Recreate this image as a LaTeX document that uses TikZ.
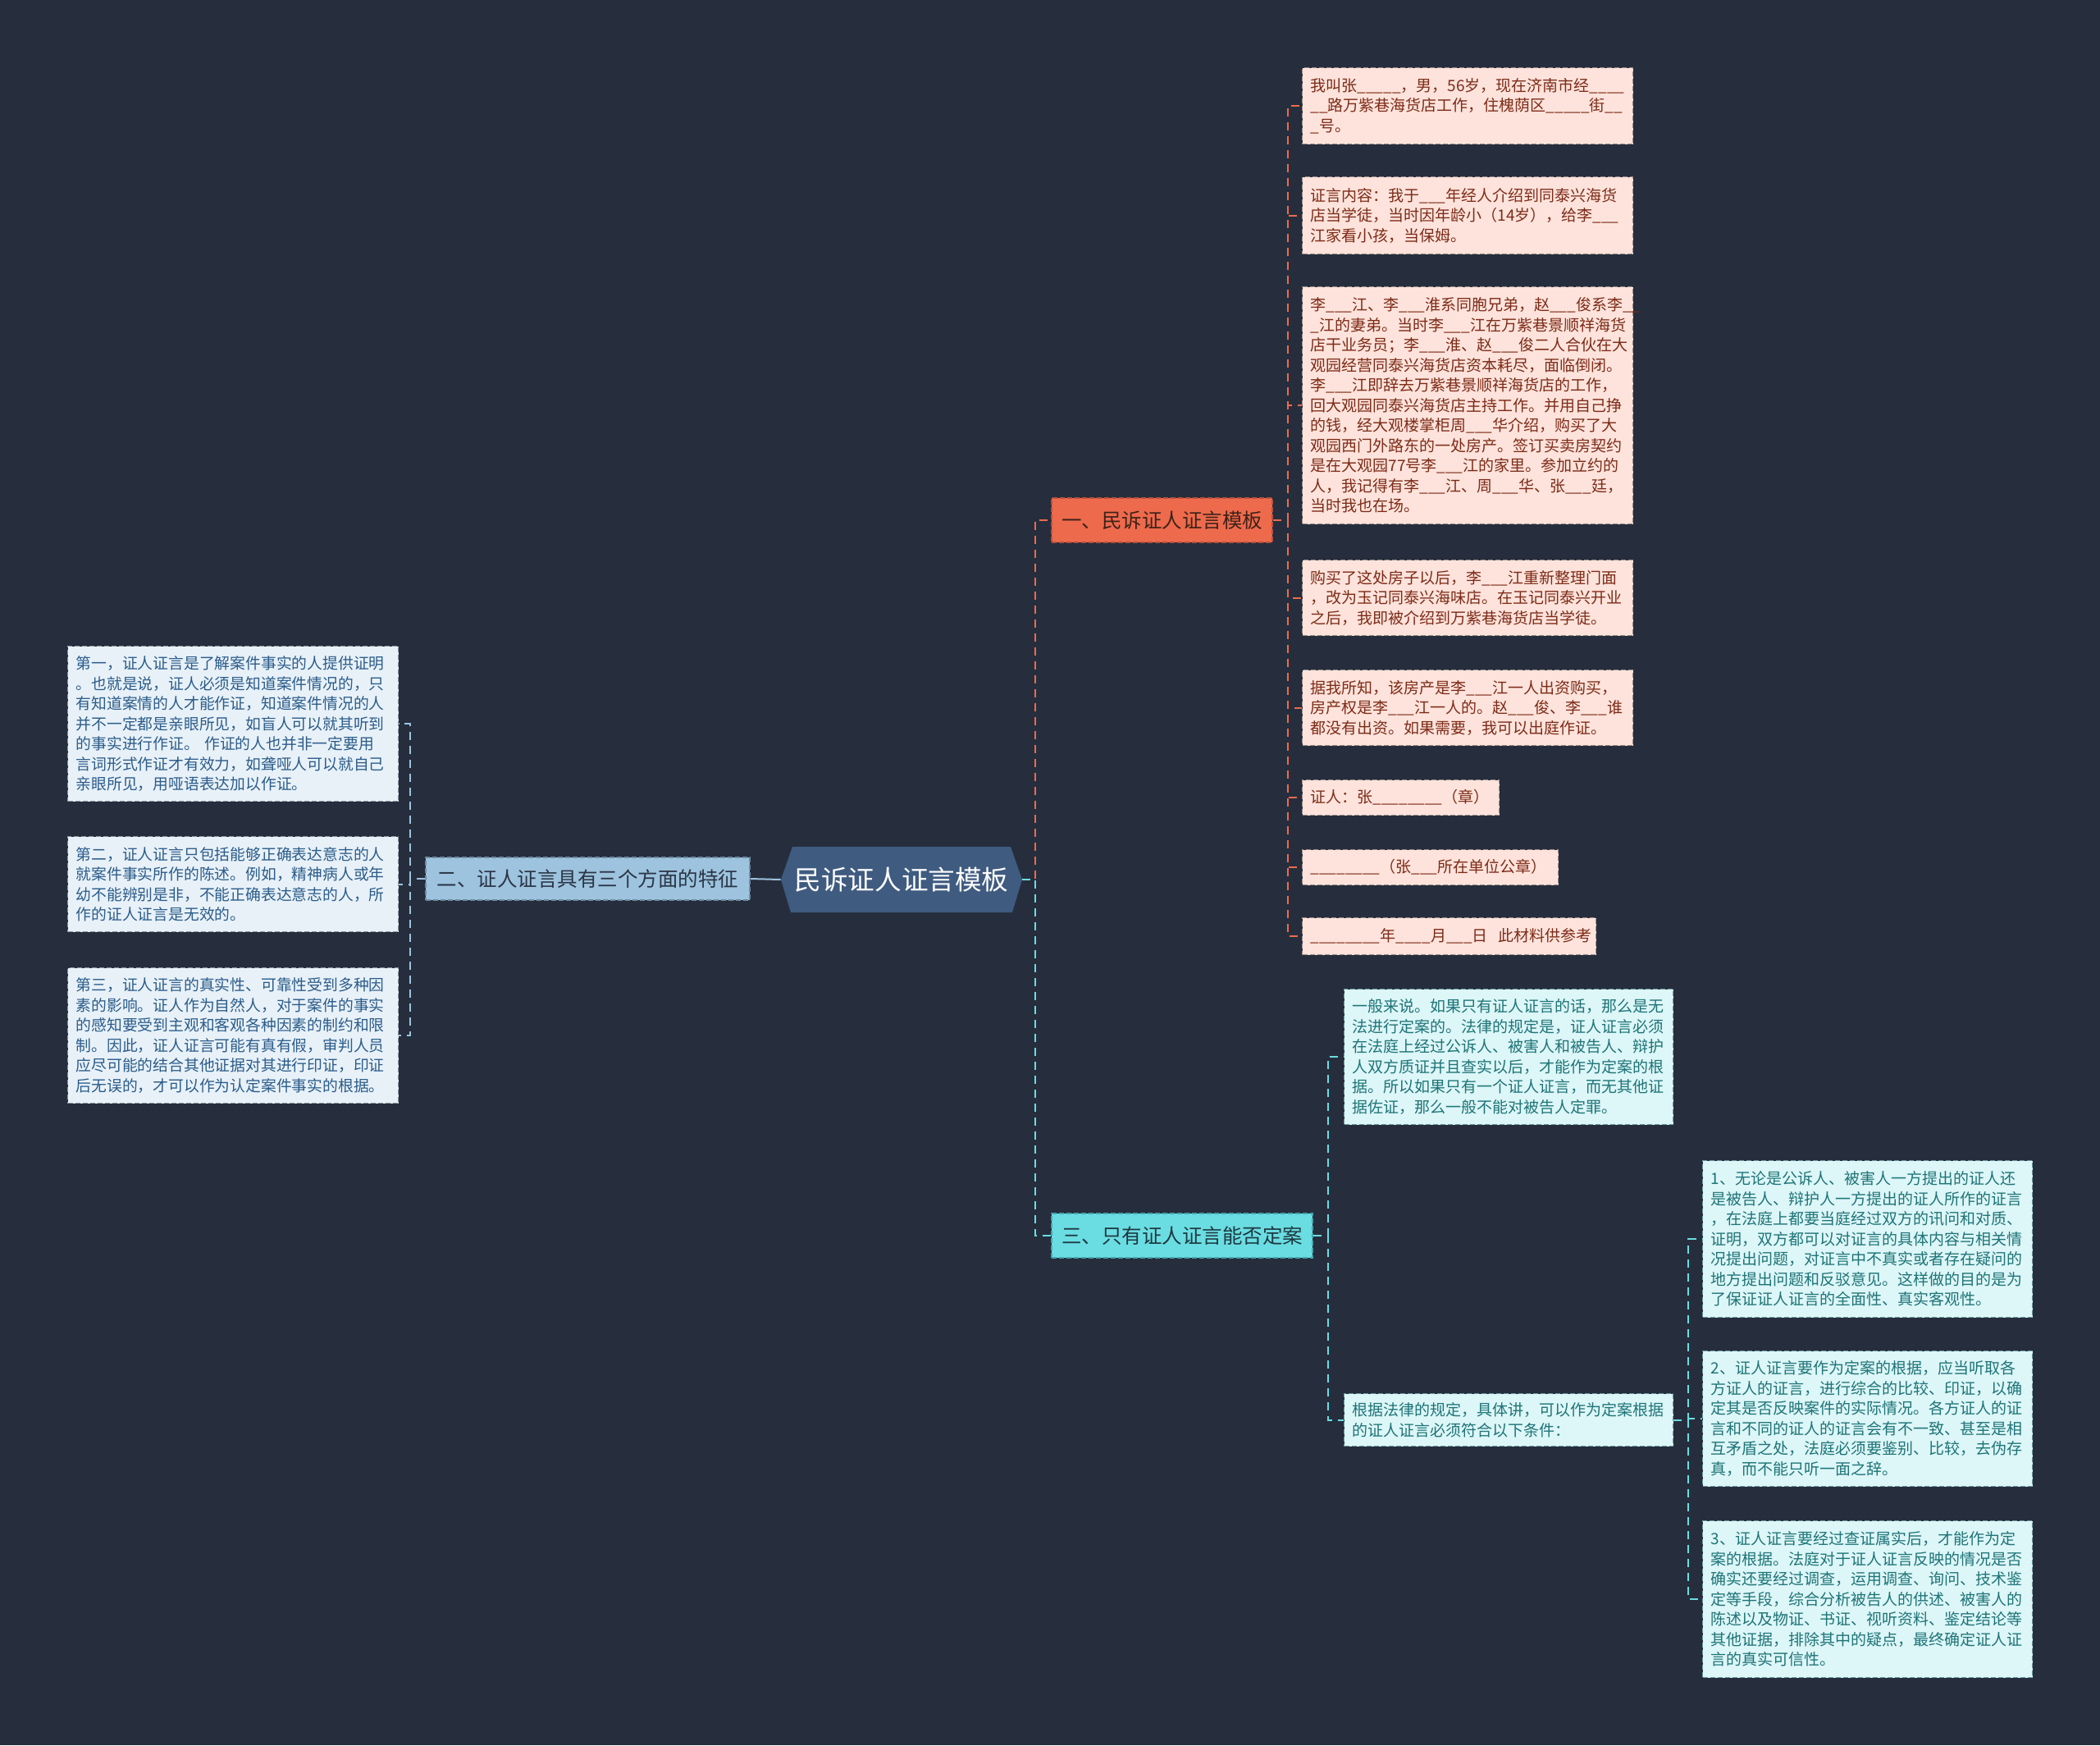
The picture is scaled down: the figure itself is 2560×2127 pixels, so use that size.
\documentclass[tikz,border=0pt]{standalone}
\usepackage{fontspec}
\setmainfont{Noto Sans CJK SC}
\definecolor{bgc}{HTML}{262E3D}
\definecolor{rootc}{HTML}{3F5B80}
\definecolor{ora}{HTML}{EE6A4C}
\definecolor{orad}{HTML}{B8503A}
\definecolor{orat}{HTML}{3E2219}
\definecolor{lblue}{HTML}{9DC3DE}
\definecolor{lblued}{HTML}{6F8BA2}
\definecolor{lbluet}{HTML}{2A3545}
\definecolor{cyanb}{HTML}{6ADDE2}
\definecolor{cyand}{HTML}{43A6AC}
\definecolor{cyant}{HTML}{1D3940}
\definecolor{pinkf}{HTML}{FDE3DB}
\definecolor{pinkd}{HTML}{9C8C88}
\definecolor{pinkt}{HTML}{7D2B18}
\definecolor{leftf}{HTML}{E8F1F8}
\definecolor{leftd}{HTML}{8A96A2}
\definecolor{leftt}{HTML}{2B5C8A}
\definecolor{cyf}{HTML}{DDF6F7}
\definecolor{cyd}{HTML}{6C9AA0}
\definecolor{cyt}{HTML}{1E7478}
\begin{document}
\begin{tikzpicture}[x=0.5pt,y=-0.5pt,
  bdash/.style={dash pattern=on 3pt off 1.5pt, line width=0.6pt},
  con/.style={dash pattern=on 5pt off 3.5pt, line width=1pt},
  branch/.style={bdash, inner sep=0pt, font=\fontsize{12.25}{14}\selectfont},
  leaf/.style={bdash, anchor=north west, inner xsep=5pt, inner ysep=0pt, text width=191.5pt, align=left, font=\fontsize{9.5}{12.25}\selectfont},
  pinkleaf/.style={leaf, fill=pinkf, draw=pinkd, text=pinkt},
  leftleaf/.style={leaf, fill=leftf, draw=leftd, text=leftt, font=\fontsize{9.4}{12.25}\selectfont},
  cyleaf/.style={leaf, fill=cyf, draw=cyd, text=cyt}]
\fill[bgc] (0,0) rectangle (2560,2127);
\useasboundingbox (0,0) rectangle (2560,2127);
% root
\fill[rootc] (952,1072) -- (966,1032) -- (1232,1032) -- (1246,1072) -- (1234,1112) -- (964,1112) -- cycle;
\node[minimum width=147pt, minimum height=40pt, inner sep=0pt, text=white, font=\fontsize{16.3}{18}\selectfont] (root) at (1099,1072) {民诉证人证言模板};
% branches
\node[branch, fill=ora, draw=orad, text=orat, minimum width=134.5pt, minimum height=27pt] (b1) at (1416.5,634) {一、民诉证人证言模板};
\node[branch, fill=lblue, draw=lblued, text=lbluet, minimum width=197.5pt, minimum height=26pt] (b2) at (716.5,1071) {二、证人证言具有三个方面的特征};
\node[branch, fill=cyanb, draw=cyand, text=cyant, minimum width=159pt, minimum height=27pt] (b3) at (1441,1506) {三、只有证人证言能否定案};
% branch 1 leaves
\node[pinkleaf, minimum height=46.5pt] (p1) at (1587,82) {我叫张\_\_\_\_\_，男，56岁，现在济南市经\_\_\_\_\\\_\_路万紫巷海货店工作，住槐荫区\_\_\_\_\_街\_\_\\\_号。};
\node[pinkleaf, minimum height=47pt] (p2) at (1587,215) {证言内容：我于\_\_\_年经人介绍到同泰兴海货\\店当学徒，当时因年龄小（14岁），给李\_\_\_\\江家看小孩，当保姆。};
\node[pinkleaf, minimum height=144.5pt] (p3) at (1587,349) {李\_\_\_江、李\_\_\_淮系同胞兄弟，赵\_\_\_俊系李\_\_\\\_江的妻弟。当时李\_\_\_江在万紫巷景顺祥海货\\店干业务员；李\_\_\_淮、赵\_\_\_俊二人合伙在大\\观园经营同泰兴海货店资本耗尽，面临倒闭。\\李\_\_\_江即辞去万紫巷景顺祥海货店的工作，\\回大观园同泰兴海货店主持工作。并用自己挣\\的钱，经大观楼掌柜周\_\_\_华介绍，购买了大\\观园西门外路东的一处房产。签订买卖房契约\\是在大观园77号李\_\_\_江的家里。参加立约的\\人，我记得有李\_\_\_江、周\_\_\_华、张\_\_\_廷，\\当时我也在场。};
\node[pinkleaf, minimum height=46pt] (p4) at (1587,682) {购买了这处房子以后，李\_\_\_江重新整理门面\\，改为玉记同泰兴海味店。在玉记同泰兴开业\\之后，我即被介绍到万紫巷海货店当学徒。};
\node[pinkleaf, minimum height=46pt] (p5) at (1587,816) {据我所知，该房产是李\_\_\_江一人出资购买，\\房产权是李\_\_\_江一人的。赵\_\_\_俊、李\_\_\_谁\\都没有出资。如果需要，我可以出庭作证。};
\node[pinkleaf, minimum height=21.5pt, text width=110pt] (p6) at (1587,950) {证人：张\_\_\_\_\_\_\_\_（章）};
\node[pinkleaf, minimum height=21.5pt, text width=146pt] (p7) at (1587,1035) {\_\_\_\_\_\_\_\_（张\_\_\_所在单位公章）};
\node[pinkleaf, minimum height=22.5pt, text width=169pt] (p8) at (1587,1118) {\_\_\_\_\_\_\_\_年\_\_\_\_月\_\_\_日~ 此材料供参考};
% branch 2 leaves
\node[leftleaf, minimum height=94.5pt] (l1) at (82,787) {第一，证人证言是了解案件事实的人提供证明\\。也就是说，证人必须是知道案件情况的，只\\有知道案情的人才能作证，知道案件情况的人\\并不一定都是亲眼所见，如盲人可以就其听到\\的事实进行作证。~作证的人也并非一定要用\\言词形式作证才有效力，如聋哑人可以就自己\\亲眼所见，用哑语表达加以作证。};
\node[leftleaf, minimum height=58pt] (l2) at (82,1019) {第二，证人证言只包括能够正确表达意志的人\\就案件事实所作的陈述。例如，精神病人或年\\幼不能辨别是非，不能正确表达意志的人，所\\作的证人证言是无效的。};
\node[leftleaf, minimum height=82.5pt] (l3) at (82,1179) {第三，证人证言的真实性、可靠性受到多种因\\素的影响。证人作为自然人，对于案件的事实\\的感知要受到主观和客观各种因素的制约和限\\制。因此，证人证言可能有真有假，审判人员\\应尽可能的结合其他证据对其进行印证，印证\\后无误的，才可以作为认定案件事实的根据。};
% branch 3 leaves
\node[cyleaf, minimum height=82.5pt, text width=190.5pt] (c1) at (1638,1205) {一般来说。如果只有证人证言的话，那么是无\\法进行定案的。法律的规定是，证人证言必须\\在法庭上经过公诉人、被害人和被告人、辩护\\人双方质证并且查实以后，才能作为定案的根\\据。所以如果只有一个证人证言，而无其他证\\据佐证，那么一般不能对被告人定罪。};
\node[cyleaf, minimum height=32pt, text width=190.5pt] (c2) at (1638,1698) {根据法律的规定，具体讲，可以作为定案根据\\的证人证言必须符合以下条件：};
\node[cyleaf, minimum height=95.5pt, text width=191pt] (d1) at (2075,1414) {1、无论是公诉人、被害人一方提出的证人还\\是被告人、辩护人一方提出的证人所作的证言\\，在法庭上都要当庭经过双方的讯问和对质、\\证明，双方都可以对证言的具体内容与相关情\\况提出问题，对证言中不真实或者存在疑问的\\地方提出问题和反驳意见。这样做的目的是为\\了保证证人证言的全面性、真实客观性。};
\node[cyleaf, minimum height=82.5pt, text width=191pt] (d2) at (2075,1646) {2、证人证言要作为定案的根据，应当听取各\\方证人的证言，进行综合的比较、印证，以确\\定其是否反映案件的实际情况。各方证人的证\\言和不同的证人的证言会有不一致、甚至是相\\互矛盾之处，法庭必须要鉴别、比较，去伪存\\真，而不能只听一面之辞。};
\node[cyleaf, minimum height=95.5pt, text width=191pt] (d3) at (2075,1853) {3、证人证言要经过查证属实后，才能作为定\\案的根据。法庭对于证人证言反映的情况是否\\确实还要经过调查，运用调查、询问、技术鉴\\定等手段，综合分析被告人的供述、被害人的\\陈述以及物证、书证、视听资料、鉴定结论等\\其他证据，排除其中的疑点，最终确定证人证\\言的真实可信性。};
% connectors
\draw[con, ora] (root.east) -- ++(16,0) |- (b1.west);
\draw[con, cyanb] (root.east) -- ++(16,0) |- (b3.west);
\draw[lblue, line width=1pt] (root.west) -- (b2.east);
\foreach \n in {p1,p2,p3,p4,p5,p6,p7,p8}
  \draw[con, ora] (b1.east) -- ++(18,0) |- (\n.west);
\foreach \n in {l1,l2,l3}
  \draw[con, lblue] (b2.west) -- ++(-18,0) |- (\n.east);
\foreach \n in {c1,c2}
  \draw[con, cyanb] (b3.east) -- ++(18,0) |- (\n.west);
\foreach \n in {d1,d2,d3}
  \draw[con, cyanb] (c2.east) -- ++(18,0) |- (\n.west);
\end{tikzpicture}
\end{document}
